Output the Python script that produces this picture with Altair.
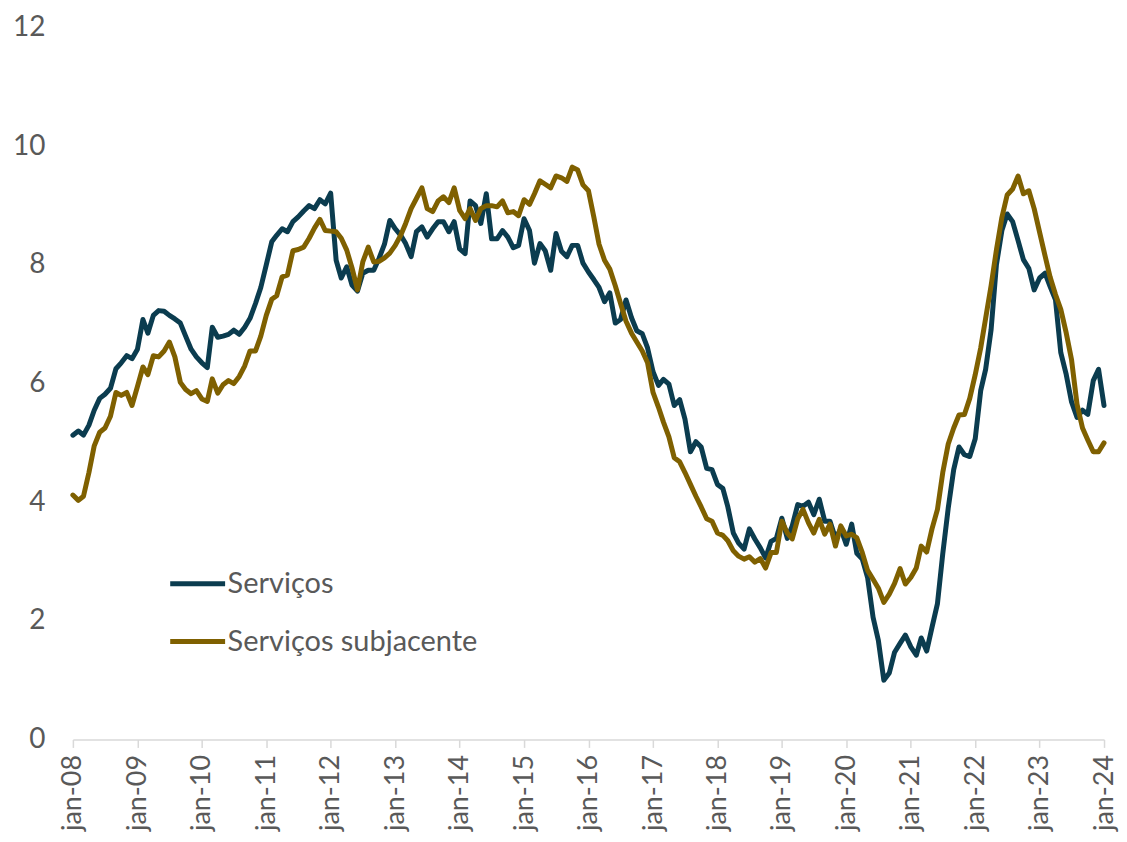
import altair as alt
import pandas as pd

# Monthly series, jan-08 .. jan-24
servicos = [
    5.13, 5.2, 5.13, 5.3, 5.55, 5.75, 5.82, 5.92, 6.25, 6.35, 6.47, 6.42,      # 2008
    6.58, 7.08, 6.85, 7.15, 7.23, 7.22, 7.15, 7.09, 7.02, 6.8, 6.58, 6.45,     # 2009
    6.35, 6.27, 6.95, 6.78, 6.8, 6.83, 6.9, 6.83, 6.95, 7.1, 7.35, 7.62,       # 2010
    8.0, 8.39, 8.5, 8.61, 8.56, 8.73, 8.81, 8.91, 9.0, 8.95, 9.1, 9.03,        # 2011
    9.21, 8.08, 7.78, 7.97, 7.66, 7.56, 7.86, 7.91, 7.91, 8.11, 8.35, 8.75,    # 2012
    8.61, 8.5, 8.36, 8.14, 8.56, 8.64, 8.47, 8.61, 8.73, 8.73, 8.56, 8.73,     # 2013
    8.27, 8.19, 9.08, 9.0, 8.7, 9.2, 8.44, 8.44, 8.58, 8.47, 8.29, 8.33,       # 2014
    8.78, 8.58, 8.03, 8.36, 8.24, 7.91, 8.53, 8.23, 8.14, 8.33, 8.33, 8.03,    # 2015
    7.88, 7.75, 7.62, 7.38, 7.53, 7.02, 7.08, 7.41, 7.11, 6.89, 6.84, 6.6,     # 2016
    6.2, 5.97, 6.07, 5.99, 5.63, 5.73, 5.4, 4.85, 5.02, 4.93, 4.57, 4.55,      # 2017
    4.3, 4.23, 3.92, 3.48, 3.31, 3.21, 3.55, 3.38, 3.23, 3.06, 3.34, 3.39,     # 2018
    3.73, 3.39, 3.6, 3.96, 3.93, 4.0, 3.79, 4.05, 3.68, 3.68, 3.39, 3.55,      # 2019
    3.29, 3.63, 3.14, 3.04, 2.73, 2.06, 1.67, 1.0, 1.12, 1.47, 1.62, 1.76,     # 2020
    1.56, 1.42, 1.71, 1.49, 1.89, 2.29, 3.13, 3.9, 4.55, 4.93, 4.8, 4.77,      # 2021
    5.07, 5.88, 6.24, 6.91, 8.0, 8.58, 8.86, 8.73, 8.41, 8.09, 7.94, 7.58,     # 2022
    7.78, 7.86, 7.64, 7.41, 6.52, 6.15, 5.69, 5.43, 5.55, 5.48, 6.05, 6.24,    # 2023
    5.63,                                                                       # 2024
]
subjacente = [
    4.12, 4.03, 4.1, 4.5, 4.95, 5.18, 5.25, 5.45, 5.85, 5.8, 5.85, 5.63,       # 2008
    5.95, 6.28, 6.15, 6.47, 6.45, 6.55, 6.7, 6.45, 6.02, 5.9, 5.83, 5.88,      # 2009
    5.74, 5.7, 6.08, 5.84, 5.98, 6.05, 6.0, 6.12, 6.3, 6.55, 6.55, 6.8,        # 2010
    7.15, 7.42, 7.48, 7.8, 7.83, 8.24, 8.26, 8.3, 8.45, 8.62, 8.77, 8.58,      # 2011
    8.57, 8.56, 8.45, 8.25, 7.95, 7.58, 8.05, 8.3, 8.05, 8.06, 8.12, 8.2,      # 2012
    8.33, 8.5, 8.7, 8.95, 9.12, 9.3, 8.95, 8.9, 9.08, 9.15, 9.05, 9.3,         # 2013
    8.92, 8.78, 8.95, 8.75, 8.95, 9.0, 9.0, 8.98, 9.08, 8.88, 8.9, 8.83,       # 2014
    9.1, 9.02, 9.2, 9.42, 9.36, 9.3, 9.5, 9.47, 9.41, 9.65, 9.6, 9.35,         # 2015
    9.25, 8.8, 8.35, 8.08, 7.93, 7.65, 7.35, 7.05, 6.85, 6.7, 6.55, 6.35,      # 2016
    5.85, 5.6, 5.35, 5.1, 4.75, 4.68, 4.5, 4.3, 4.1, 3.92, 3.72, 3.68,         # 2017
    3.48, 3.44, 3.35, 3.18, 3.09, 3.04, 3.08, 2.99, 3.05, 2.89, 3.15, 3.15,    # 2018
    3.68, 3.48, 3.38, 3.72, 3.88, 3.65, 3.48, 3.71, 3.46, 3.63, 3.26, 3.6,     # 2019
    3.43, 3.46, 3.4, 3.15, 2.85, 2.7, 2.55, 2.31, 2.45, 2.63, 2.88, 2.62,      # 2020
    2.73, 2.89, 3.26, 3.16, 3.55, 3.88, 4.5, 4.98, 5.25, 5.47, 5.48, 5.75,     # 2021
    6.15, 6.6, 7.1, 7.65, 8.25, 8.8, 9.18, 9.28, 9.5, 9.2, 9.25, 8.95,         # 2022
    8.55, 8.15, 7.8, 7.5, 7.25, 6.85, 6.4, 5.65, 5.25, 5.05, 4.85, 4.85,       # 2023
    5.0,                                                                        # 2024
]
series_names = ["Serviços", "Serviços subjacente"]
series_colors = ["#0B3C4F", "#7F6000"]
tick_years = list(range(2008, 2025))
y_ticks = [0, 2, 4, 6, 8, 10, 12]

dates = list(pd.date_range("2008-01-01", periods=len(servicos), freq="MS").strftime("%Y-%m-%d"))
df = pd.DataFrame({
    "date": dates + dates,
    "valor": servicos + subjacente,
    "serie": [series_names[0]] * len(servicos) + [series_names[1]] * len(subjacente),
})

FONT = "Lato"
LABEL_COLOR = "#595959"
FS = 29

x_axis = alt.Axis(
    values=[alt.DateTime(year=y, month=1, date=1, utc=True) for y in tick_years],
    labelExpr="'jan-' + utcFormat(datum.value, '%y')",
    labelAngle=-90, title=None, grid=False,
    domainColor="#D9D9D9", domainWidth=1.5,
    tickColor="#D9D9D9", tickWidth=1.5, tickSize=8,
    labelPadding=7, labelFontSize=27, labelFont=FONT, labelColor=LABEL_COLOR,
    labelOverlap=False, labelFlush=False,
)
y_axis = alt.Axis(
    values=y_ticks, title=None, grid=False, domain=False, ticks=False, tickSize=0,
    labelPadding=28, labelFontSize=28, labelFont=FONT, labelColor=LABEL_COLOR,
)

chart = alt.Chart(df).mark_line(strokeWidth=5, strokeJoin="round", strokeCap="round").encode(
    x=alt.X("date:T", axis=x_axis,
            scale=alt.Scale(type="utc", domain=[alt.DateTime(year=2008, month=1, date=1, utc=True),
                                                alt.DateTime(year=2024, month=1, date=1, utc=True)])),
    y=alt.Y("valor:Q", axis=y_axis, scale=alt.Scale(domain=[0, 12], nice=False, zero=True)),
    color=alt.Color("serie:N", sort=series_names,
                    scale=alt.Scale(domain=series_names, range=series_colors),
                    legend=alt.Legend(title=None, orient="none", legendX=95, legendY=527,
                                      symbolType="stroke", symbolSize=3025, symbolStrokeWidth=5,
                                      labelFontSize=FS, labelFont=FONT, labelColor=LABEL_COLOR,
                                      labelOffset=0, rowPadding=13, padding=0, labelLimit=500)),
).properties(
    width=1033, height=713, autosize="none",
    padding={"left": 65, "top": 19, "right": 15, "bottom": 94},
).configure(font=FONT).configure_view(stroke=None)

chart.save("out.html", embed_options={"renderer": "svg", "actions": False})
